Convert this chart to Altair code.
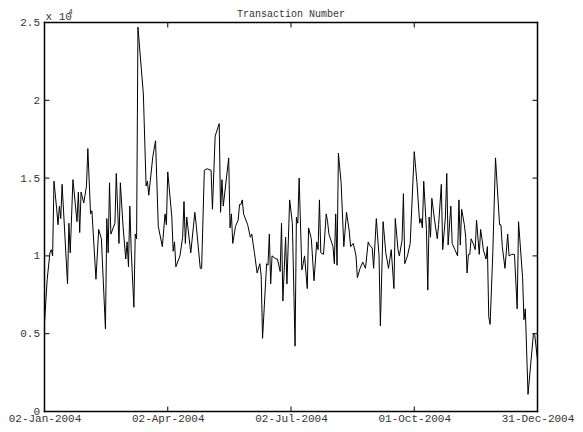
import altair as alt
import pandas as pd

# day offset from 02-Jan-2004, and transaction number in units of 10^4
day_offset = [
    0, 2, 4, 5, 6, 7, 9, 10, 11, 12, 13, 17, 18, 19, 21, 24, 25, 26, 27, 29,
    31, 32, 34, 35, 38, 40, 42, 45, 46, 47, 48, 49, 52, 53, 55, 56, 58, 60, 61, 62,
    63, 64, 66, 67, 68, 69, 73, 75, 76, 77, 80, 82, 84, 87, 89, 90, 91, 94, 95, 96,
    97, 100, 102, 103, 104, 105, 108, 111, 112, 115, 116, 118, 120, 123, 124, 126, 129, 130, 131, 132,
    136, 137, 138, 139, 141, 143, 144, 145, 146, 147, 150, 152, 153, 155, 157, 159, 160, 161, 164, 165,
    166, 167, 168, 171, 172, 174, 175, 176, 178, 179, 181, 183, 185, 186, 187, 188, 190, 191, 192, 194,
    195, 197, 199, 201, 202, 203, 204, 206, 208, 209, 210, 213, 214, 215, 216, 217, 219, 221, 223, 225,
    226, 228, 230, 231, 233, 235, 237, 239, 240, 242, 243, 245, 247, 248, 250, 252, 254, 256, 258, 259,
    261, 262, 264, 265, 266, 268, 270, 273, 275, 277, 278, 279, 280, 282, 283, 284, 285, 286, 288, 290,
    291, 293, 294, 296, 297, 298, 300, 301, 303, 305, 306, 307, 308, 310, 311, 312, 313, 314, 315, 317,
    318, 319, 321, 322, 323, 324, 326, 327, 328, 329, 331, 333, 336, 337, 338, 340, 342, 343, 345, 347,
    349, 350, 353, 354, 355, 357, 361, 362, 364,
]
transactions = [
    0.57, 0.85, 1.02, 1.04, 1.00, 1.48, 1.30, 1.20, 1.32, 1.24, 1.46, 0.82, 1.21, 1.02, 1.49, 1.22, 1.41, 1.15, 1.41, 1.34,
    1.45, 1.69, 1.27, 1.29, 0.85, 1.17, 1.11, 0.53, 1.24, 1.02, 1.47, 1.14, 1.21, 1.53, 1.08, 1.47, 1.19, 0.98, 1.09, 0.93,
    1.32, 1.04, 0.67, 1.14, 1.11, 2.47, 2.04, 1.45, 1.48, 1.39, 1.64, 1.74, 1.19, 1.06, 1.27, 1.20, 1.54, 1.25, 1.03, 1.09,
    0.93, 1.00, 1.12, 1.35, 1.08, 1.25, 1.02, 1.28, 1.20, 0.92, 0.92, 1.55, 1.56, 1.55, 1.30, 1.77, 1.85, 1.28, 1.49, 1.32,
    1.63, 1.18, 1.27, 1.08, 1.19, 1.23, 1.33, 1.33, 1.36, 1.27, 1.20, 1.12, 1.14, 1.02, 0.89, 0.95, 0.87, 0.47, 0.95, 0.94,
    1.14, 0.82, 1.00, 0.98, 0.98, 0.90, 1.21, 0.71, 1.12, 0.82, 1.36, 1.21, 0.42, 1.25, 1.21, 1.50, 0.91, 0.95, 1.00, 0.79,
    1.18, 1.11, 0.84, 1.09, 1.04, 1.36, 1.02, 1.01, 1.27, 1.22, 1.14, 1.06, 0.95, 1.27, 0.94, 1.66, 1.47, 1.06, 1.28, 1.16,
    1.06, 1.08, 1.00, 0.86, 0.92, 0.96, 0.92, 1.09, 1.07, 1.05, 0.92, 1.24, 1.00, 0.55, 1.22, 1.02, 0.92, 1.04, 0.79, 1.24,
    1.04, 1.00, 1.10, 1.40, 0.95, 1.00, 1.08, 1.67, 1.47, 1.21, 1.24, 1.18, 1.48, 1.17, 0.78, 1.25, 1.12, 1.37, 1.23, 1.11,
    1.20, 1.46, 1.04, 1.25, 1.53, 1.07, 1.32, 1.08, 1.04, 1.00, 1.36, 1.07, 1.30, 1.20, 1.12, 0.89, 1.01, 1.01, 1.11, 1.07,
    1.04, 1.23, 1.01, 1.17, 1.11, 1.04, 0.98, 1.06, 0.61, 0.56, 1.02, 1.63, 1.20, 1.20, 1.06, 0.92, 1.14, 1.00, 1.01, 1.01,
    0.66, 1.22, 0.86, 0.59, 0.66, 0.11, 0.50, 0.49, 0.33,
]

x_tick_dates = ["2004-01-02", "2004-04-02", "2004-07-02", "2004-10-01", "2004-12-31"]
y_ticks = [0, 0.5, 1, 1.5, 2, 2.5]
title_text = "Transaction Number"
exponent_base = "x 10"
exponent_power = "4"

start = pd.Timestamp("2004-01-02")
dates = [(start + pd.Timedelta(days=d)).strftime("%Y-%m-%d") for d in day_offset]
df = pd.DataFrame({"date": dates, "value": transactions})
xt = pd.DataFrame({"date": x_tick_dates})
yt = pd.DataFrame({"v": y_ticks})

FONT = "Liberation Mono"
TXT = "#333333"
W, H = 493, 389

x_scale = alt.Scale(type="utc", domain=[x_tick_dates[0], x_tick_dates[-1]], nice=False)
y_scale = alt.Scale(domain=[0, 2.5], nice=False, zero=False)

x_axis = alt.Axis(
    values=[alt.DateTime(year=2004, month=m, date=d, utc=True)
            for m, d in [(1, 2), (4, 2), (7, 2), (10, 1), (12, 31)]],
    labelExpr="utcFormat(datum.value, '%d-%b-%Y')",
    ticks=False, domain=False, grid=False, labelPadding=1, labelFlush=False,
    labelFont=FONT, labelFontSize=11, labelColor=TXT, title=None,
)
y_axis = alt.Axis(
    values=y_ticks, ticks=False, domain=False, grid=False, labelPadding=5,
    labelFont=FONT, labelFontSize=11, labelColor=TXT, title=None,
    labelExpr="datum.value == 0 ? '0' : format(datum.value, '.2~f')",
)

line = alt.Chart(df).mark_line(color="black", strokeWidth=1).encode(
    x=alt.X("date:T", scale=x_scale, axis=x_axis),
    y=alt.Y("value:Q", scale=y_scale, axis=y_axis),
)

one = pd.DataFrame({"b": [0]})
rule_kw = dict(color="black", strokeWidth=1.5, strokeCap="square")
edge_l = alt.Chart(one).mark_rule(**rule_kw).encode(x=alt.value(0), y=alt.value(0), y2=alt.value(H))
edge_r = alt.Chart(one).mark_rule(**rule_kw).encode(x=alt.value(W), y=alt.value(0), y2=alt.value(H))
edge_t = alt.Chart(one).mark_rule(**rule_kw).encode(y=alt.value(0), x=alt.value(0), x2=alt.value(W))
edge_b = alt.Chart(one).mark_rule(**rule_kw).encode(y=alt.value(H), x=alt.value(0), x2=alt.value(W))

ytick_l = alt.Chart(yt).mark_rule(color="black", strokeWidth=1).encode(
    y=alt.Y("v:Q", scale=y_scale), x=alt.value(0), x2=alt.value(5)
)
ytick_r = alt.Chart(yt).mark_rule(color="black", strokeWidth=1).encode(
    y=alt.Y("v:Q", scale=y_scale), x=alt.value(W - 5), x2=alt.value(W)
)
xtick_b = alt.Chart(xt).mark_rule(color="black", strokeWidth=1).encode(
    x=alt.X("date:T", scale=x_scale), y=alt.value(H - 5), y2=alt.value(H)
)
xtick_t = alt.Chart(xt).mark_rule(color="black", strokeWidth=1).encode(
    x=alt.X("date:T", scale=x_scale), y=alt.value(0), y2=alt.value(5)
)

title = alt.Chart(pd.DataFrame({"t": [title_text]})).mark_text(
    font=FONT, fontSize=10, color=TXT, align="center", baseline="alphabetic"
).encode(text="t:N", x=alt.value(W / 2), y=alt.value(-6))
exp_base = alt.Chart(pd.DataFrame({"t": [exponent_base]})).mark_text(
    font=FONT, fontSize=11, color=TXT, align="left", baseline="alphabetic"
).encode(text="t:N", x=alt.value(1), y=alt.value(-3))
exp_pow = alt.Chart(pd.DataFrame({"t": [exponent_power]})).mark_text(
    font=FONT, fontSize=7, color=TXT, align="left", baseline="alphabetic"
).encode(text="t:N", x=alt.value(24), y=alt.value(-9))

chart = alt.layer(
    line, edge_l, edge_r, edge_t, edge_b, ytick_l, ytick_r, xtick_b, xtick_t,
    title, exp_base, exp_pow
).properties(
    width=W,
    height=H,
    padding={"left": 36.5, "top": 14.5, "right": 37.5, "bottom": 12},
    autosize="none",
    background="white",
).configure_view(strokeWidth=0)

chart.save("out.html", embed_options={"renderer": "svg", "actions": False})
